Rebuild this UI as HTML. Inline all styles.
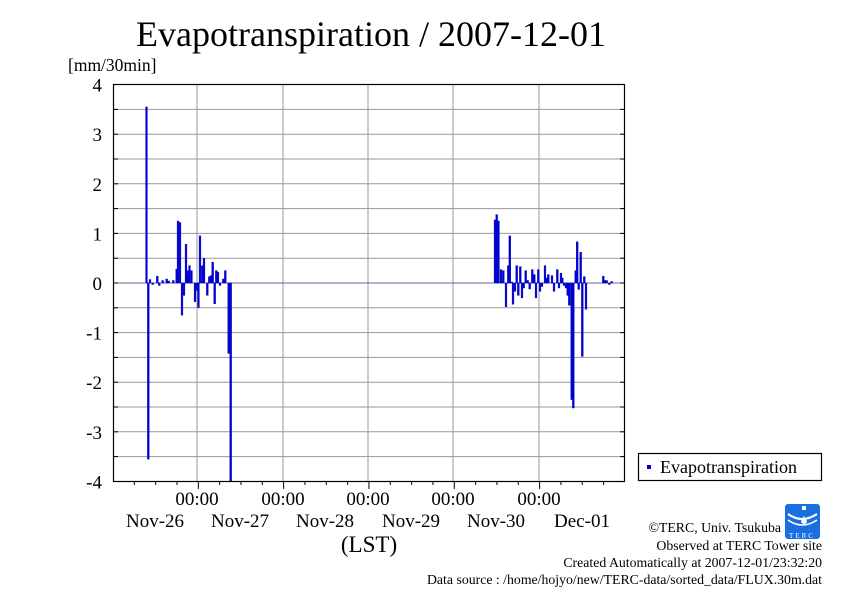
<!DOCTYPE html>
<html><head><meta charset="utf-8"><style>
html,body{margin:0;padding:0;background:#fff;}
svg text{font-family:"Liberation Serif","DejaVu Serif",serif;fill:#000;}
</style></head><body>
<svg width="842" height="595" viewBox="0 0 842 595" xmlns="http://www.w3.org/2000/svg">
<rect width="842" height="595" fill="#fff"/>
<text x="371" y="46" font-size="36" text-anchor="middle">Evapotranspiration / 2007-12-01</text>
<text x="68" y="71" font-size="17.5">[mm/30min]</text>
<g id="grid" stroke="#999" stroke-width="1"></g>
<g id="bars" fill="#0000dd" stroke="#0000aa" stroke-width="0.4"></g>
<rect x="113.5" y="84.5" width="511" height="397" fill="none" stroke="#000" stroke-width="1.2"/>
<g id="ticks" stroke="#000" stroke-width="1"></g>
<g font-size="19" text-anchor="end" id="ylab"></g>
<g font-size="19" text-anchor="middle">
<text x="197" y="505">00:00</text><text x="283" y="505">00:00</text><text x="368" y="505">00:00</text><text x="453" y="505">00:00</text><text x="539" y="505">00:00</text>
<text x="155" y="527">Nov-26</text><text x="240" y="527">Nov-27</text><text x="325" y="527">Nov-28</text><text x="411" y="527">Nov-29</text><text x="496" y="527">Nov-30</text><text x="582" y="527">Dec-01</text>
<text x="369" y="552" font-size="23">(LST)</text>
</g>
<rect x="638.5" y="453.5" width="183" height="27" fill="#fff" stroke="#000" stroke-width="1.2"/>
<rect x="647" y="465" width="4" height="4" fill="#0000dd"/>
<text x="660" y="473" font-size="18">Evapotranspiration</text>
<rect x="785" y="504" width="35" height="35" rx="3" fill="#1a6fe0"/>
<path d="M788 514 q14 10 29 0" stroke="#fff" stroke-width="2" fill="none"/>
<path d="M788 520 q14 10 29 0" stroke="#fff" stroke-width="1.5" fill="none"/>
<path d="M802 506 h4 v4 h-4z M804 516 l-3 5 a3 3 0 0 0 6 0z" fill="#fff"/>
<text x="802" y="538" font-size="7" style="fill:#fff" text-anchor="middle" letter-spacing="2">TERC</text>
<g font-size="13.8" text-anchor="end">
<text x="781" y="532">©TERC, Univ. Tsukuba</text>
<text x="822" y="550">Observed at TERC Tower site</text>
<text x="822" y="567">Created Automatically at 2007-12-01/23:32:20</text>
<text x="822" y="584">Data source : /home/hojyo/new/TERC-data/sorted_data/FLUX.30m.dat</text>
</g>
</svg>
<script>
var ns="http://www.w3.org/2000/svg";
function el(p,t,a){var e=document.createElementNS(ns,t);for(var k in a)e.setAttribute(k,a[k]);document.getElementById(p).appendChild(e);return e;}
var y0=283,s=49.6;
for(var v=-3.5;v<4;v+=0.5){var y=(y0-v*s).toFixed(1);el("grid","line",{x1:113,x2:625,y1:y,y2:y});
el("ticks","line",{x1:113,x2:118,y1:y,y2:y});el("ticks","line",{x1:620,x2:625,y1:y,y2:y});}
[197,283,368,453,539].forEach(function(x){el("grid","line",{x1:x,x2:x,y1:84,y2:481});});
for(var i=1;i<24;i++){var x=113+i*21.33;el("ticks","line",{x1:x,x2:x,y1:481,y2:(i%4==0?489:485)});}
for(var v=-4;v<=4;v++){var t=el("ylab","text",{x:102,y:(y0-v*s+7).toFixed(1)});t.textContent=v;}
el("bars","line",{x1:113,x2:625,y1:283,y2:283,stroke:"#3333aa","stroke-width":0.6});
var d=[[146.5,3.55],[148.3,-3.55],[150,0.07],[152.7,-0.03],[157.3,0.14],[159.3,-0.05],[162.7,0.05],[166.7,0.08],[168.7,0.04],[173.3,0.05],[176.7,0.28],
[178,1.25],[180,1.22],[182,-0.65],[184,-0.25],[186,0.78],[187.7,0.25],[189.5,0.35],[191.5,0.25],[195,-0.38],[197,-0.15],[198.5,-0.5],[200,0.95],[202.3,0.35],[204,0.5],[207.3,-0.25],[209.3,0.13],[211,0.15],[212.7,0.42],[214.7,-0.42],[216.3,0.25],[218,0.22],[220,-0.05],[223.3,0.08],[225.3,0.25],[228.7,-1.42],[230.7,-4.0],
[495,1.27],[496.7,1.38],[498.5,1.25],[501,0.27],[503.3,0.25],[506,-0.48],[508.3,0.35],[509.8,0.95],[511.7,0.02],[513,-0.43],[515,-0.17],[516.7,0.35],[518.3,-0.25],[520.3,0.33],[522,-0.3],[523.7,-0.1],[525.7,0.25],[527.7,0.05],[529.7,-0.12],[532.3,0.27],[534.3,0.17],[536,-0.3],[538.3,0.27],[540,-0.17],[542,-0.07],[545,0.35],[546.7,0.1],[548.3,0.17],[552,0.15],[554,-0.17],[557.3,0.27],[559,-0.1],[561,0.2],[562.3,0.1],[564,-0.05],[566,-0.1],[567.7,-0.25],[569.3,-0.45],[571.7,-2.35],[573.3,-2.52],[575.7,0.25],[577.2,0.83],[578.7,-0.13],[580.7,0.62],[582.3,-1.48],[584.3,0.13],[586,-0.53],[603.3,0.14],[605,0.05],[606.7,0.05],[609.3,-0.03],[611.7,0.03]];
d.forEach(function(p){var h=p[1]*s;el("bars","rect",{x:(p[0]-0.9).toFixed(1),width:1.8,y:(h>0?y0-h:y0).toFixed(1),height:Math.abs(h).toFixed(1)});});
</script>
</body></html>
